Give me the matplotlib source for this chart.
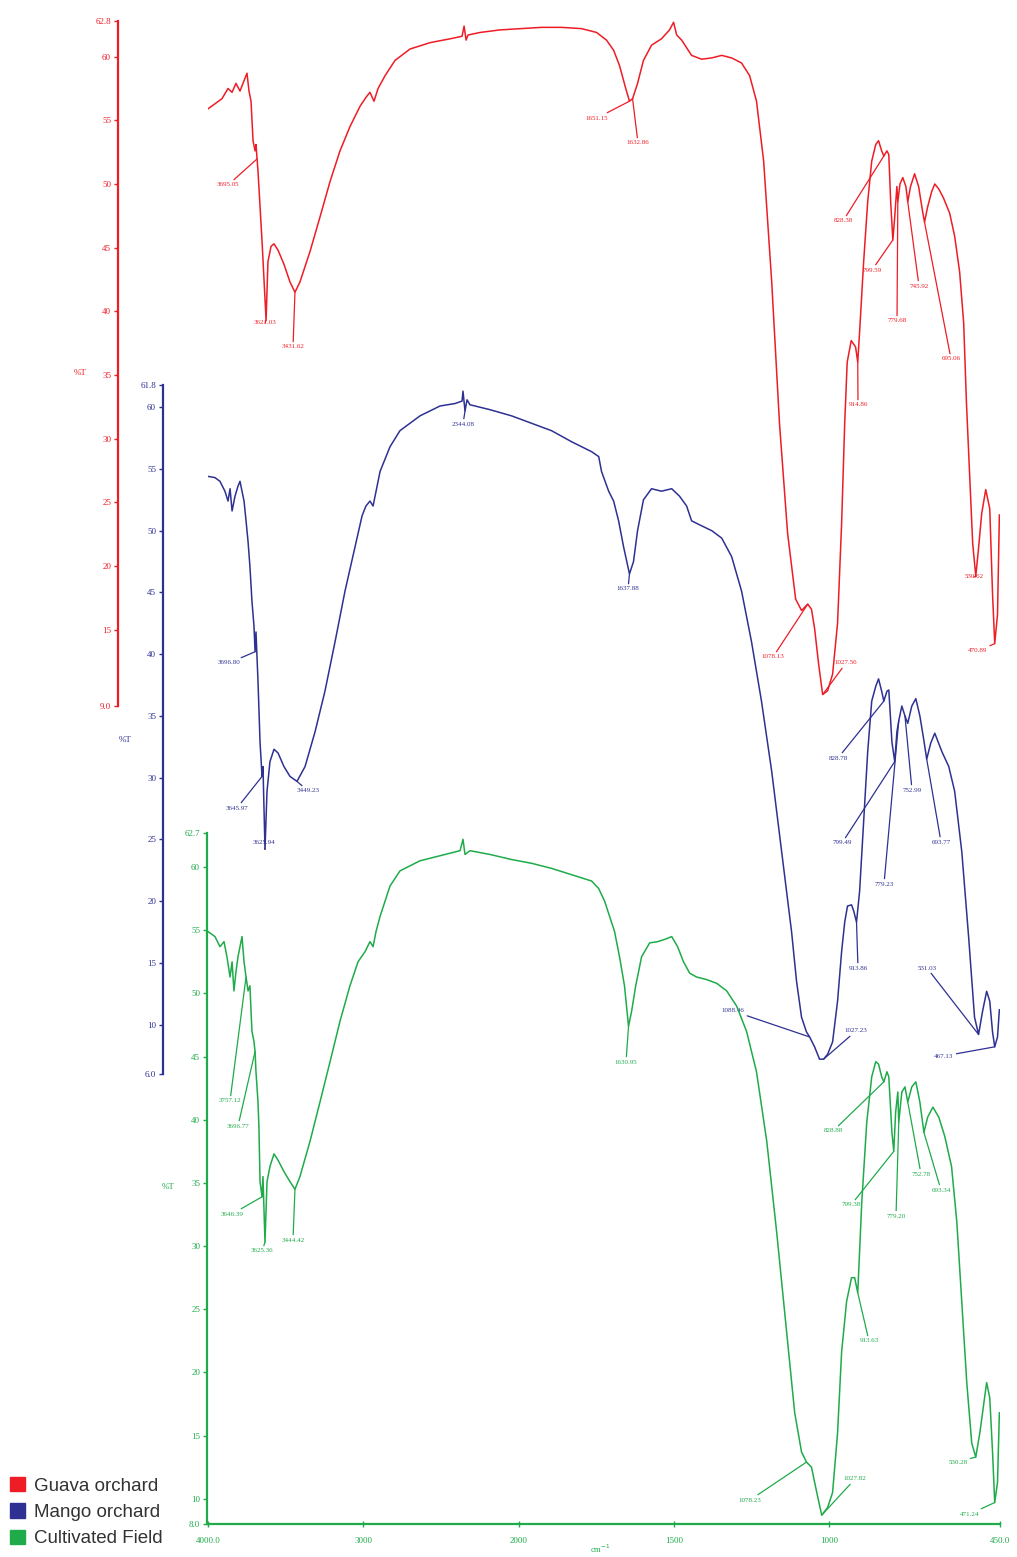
import numpy as np
import matplotlib
matplotlib.use("Agg")
import matplotlib.pyplot as plt
from matplotlib.patches import Patch

# ---------------- data ----------------
red_wn = [4000, 3955, 3910, 3871, 3845, 3820, 3794, 3768, 3749, 3736, 3723, 3710, 3697, 3691, 3678,
          3652, 3626, 3614, 3594, 3575, 3549, 3511, 3472, 3440, 3408, 3343, 3279, 3214, 3150, 3086,
          3021, 2983, 2957, 2931, 2905, 2860, 2796, 2699, 2570, 2442, 2364, 2351, 2338, 2326, 2248,
          2120, 1990, 1926, 1862, 1797, 1749, 1717, 1694, 1675, 1655, 1643, 1633, 1617, 1598, 1572,
          1540, 1514, 1501, 1491, 1475, 1443, 1411, 1378, 1346, 1314, 1282, 1256, 1234, 1211, 1185,
          1160, 1134, 1108, 1089, 1069, 1057, 1047, 1034, 1021, 1005, 989, 973, 960, 950, 942,
          929, 915, 908, 902, 889, 876, 863, 850, 841, 831, 824, 814, 808, 802, 795,
          789, 782, 779, 772, 763, 753, 747, 738, 725, 712, 699, 693, 683, 670, 660,
          647, 632, 612, 596, 580, 567, 558, 548, 538, 528, 519, 509, 496, 483, 474,
          467, 458, 452]
red_T = [55.9, 56.3, 56.7, 57.5, 57.2, 57.9, 57.3, 58.1, 58.7, 57.3, 56.5, 53.4, 52.6, 53.1, 51.0,
         45.5, 39.3, 43.9, 45.1, 45.3, 44.8, 43.7, 42.3, 41.5, 42.3, 44.7, 47.4, 50.2, 52.6, 54.5,
         56.1, 56.8, 57.2, 56.5, 57.5, 58.5, 59.7, 60.6, 61.1, 61.4, 61.6, 62.4, 61.3, 61.7, 61.9,
         62.1, 62.2, 62.3, 62.3, 62.2, 61.9, 61.3, 60.5, 59.3, 57.5, 56.5, 56.7, 57.9, 59.7, 60.9,
         61.4, 62.1, 62.7, 61.7, 61.3, 60.1, 59.8, 59.9, 60.1, 59.9, 59.5, 58.5, 56.5, 51.8, 42.3,
         31.2, 22.6, 17.4, 16.5, 17.0, 16.6, 15.1, 12.3, 9.9, 10.2, 11.5, 15.5, 23.3, 31.2, 36.0,
         37.7, 37.2, 36.0, 38.4, 43.9, 48.6, 51.8, 53.1, 53.4, 52.6, 52.2, 52.6, 52.3, 48.6, 45.6,
         47.4, 49.8, 48.6, 50.0, 50.5, 49.8, 48.6, 49.8, 50.8, 49.8, 47.8, 47.0, 48.2, 49.4, 50.0,
         49.6, 48.9, 47.7, 45.9, 43.1, 39.1, 32.8, 27.3, 21.8, 19.2, 21.4, 24.1, 26.0, 24.5, 17.8,
         13.9, 16.2, 24.0]

blue_wn = [4000, 3955, 3923, 3891, 3871, 3858, 3845, 3826, 3807, 3794, 3781, 3768, 3755, 3742, 3730,
           3717, 3704, 3697, 3691, 3678, 3665, 3652, 3646, 3633, 3620, 3601, 3575, 3549, 3511, 3472,
           3427, 3375, 3311, 3247, 3182, 3118, 3053, 3008, 2983, 2957, 2937, 2918, 2892, 2828, 2764,
           2635, 2506, 2409, 2364, 2358, 2345, 2332, 2313, 2184, 2045, 1958, 1894, 1829, 1765, 1742,
           1733, 1710, 1694, 1678, 1662, 1643, 1630, 1617, 1598, 1572, 1540, 1507, 1482, 1459, 1443,
           1411, 1378, 1346, 1314, 1282, 1250, 1218, 1185, 1153, 1121, 1105, 1089, 1073, 1063, 1047,
           1031, 1018, 1005, 989, 973, 960, 950, 941, 928, 921, 912, 902, 889, 876, 863,
           850, 841, 831, 824, 814, 808, 798, 789, 782, 776, 766, 756, 747, 734, 721,
           708, 695, 686, 673, 660, 637, 615, 596, 573, 551, 532, 519, 506, 493, 483,
           474, 467, 458, 452]
blue_T = [54.4, 54.3, 54.0, 53.2, 52.4, 53.4, 51.6, 52.8, 53.6, 54.0, 53.2, 52.4, 50.8, 49.1, 47.1,
          44.3, 42.3, 40.2, 41.8, 37.8, 32.9, 30.1, 30.9, 24.2, 28.9, 31.3, 32.3, 32.0, 30.9, 30.1,
          29.7, 30.9, 33.7, 37.0, 41.0, 45.1, 48.7, 51.2, 52.0, 52.4, 52.0, 53.2, 54.8, 56.8, 58.1,
          59.3, 60.1, 60.3, 60.5, 61.3, 59.7, 60.6, 60.2, 59.8, 59.3, 58.7, 58.1, 57.2, 56.4, 56.0,
          54.8, 53.2, 52.4, 50.8, 48.7, 46.5, 47.5, 50.0, 52.5, 53.4, 53.2, 53.4, 52.8, 52.0, 50.8,
          50.4, 50.0, 49.4, 47.9, 45.1, 41.0, 36.2, 30.5, 24.0, 17.5, 13.5, 10.6, 9.4, 9.0, 8.2,
          7.2, 7.2, 7.6, 8.6, 11.9, 15.9, 18.3, 19.6, 19.7, 19.2, 18.3, 20.8, 26.5, 32.1, 36.2,
          37.4, 38.0, 37.0, 36.2, 37.0, 37.1, 32.9, 31.3, 33.7, 34.6, 35.8, 35.0, 34.4, 35.8, 36.4,
          35.0, 33.0, 31.5, 32.8, 33.6, 32.1, 30.9, 28.9, 24.0, 17.1, 10.6, 9.2, 11.1, 12.7, 11.9,
          9.4, 8.2, 9.0, 11.2]

green_wn = [4000, 3955, 3923, 3897, 3878, 3858, 3845, 3833, 3820, 3807, 3794, 3781, 3768, 3755, 3742,
            3730, 3717, 3704, 3697, 3691, 3678, 3672, 3665, 3652, 3646, 3633, 3620, 3601, 3575, 3549,
            3511, 3472, 3440, 3408, 3343, 3279, 3214, 3150, 3086, 3034, 2989, 2957, 2937, 2918, 2892,
            2828, 2764, 2635, 2506, 2377, 2358, 2345, 2313, 2184, 2045, 1958, 1894, 1829, 1765, 1742,
            1723, 1707, 1691, 1675, 1659, 1646, 1636, 1623, 1604, 1578, 1552, 1527, 1507, 1488, 1469,
            1449, 1427, 1395, 1362, 1330, 1298, 1266, 1234, 1201, 1169, 1137, 1111, 1089, 1073, 1057,
            1040, 1024, 1005, 989, 973, 960, 944, 928, 918, 908, 895, 879, 863, 850, 841,
            831, 824, 814, 808, 798, 792, 786, 779, 776, 766, 756, 747, 734, 721, 708,
            695, 683, 666, 647, 628, 606, 589, 573, 557, 541, 528, 515, 502, 493, 483,
            474, 467, 458, 452]
green_T = [54.9, 54.5, 53.7, 54.1, 52.9, 51.3, 52.5, 50.2, 51.7, 52.9, 53.7, 54.5, 52.5, 51.3, 50.2,
           50.6, 47.0, 46.2, 45.4, 43.8, 41.4, 39.4, 35.1, 33.9, 35.5, 30.3, 35.1, 36.3, 37.3, 36.8,
           35.9, 35.1, 34.5, 35.5, 38.3, 41.4, 44.6, 47.8, 50.6, 52.5, 53.3, 54.1, 53.7, 54.9, 56.1,
           58.5, 59.7, 60.5, 60.9, 61.3, 62.2, 61.0, 61.3, 61.0, 60.6, 60.3, 59.9, 59.4, 58.9, 58.3,
           57.3, 56.1, 54.9, 52.9, 50.6, 47.4, 48.6, 50.6, 52.9, 54.0, 54.1, 54.3, 54.5, 53.7, 52.5,
           51.6, 51.3, 51.1, 50.8, 50.2, 49.0, 47.0, 43.8, 38.3, 31.1, 23.2, 16.8, 13.7, 12.9, 12.5,
           10.5, 8.7, 9.3, 10.5, 15.2, 21.6, 25.6, 27.5, 27.5, 26.3, 33.5, 39.8, 43.4, 44.6, 44.4,
           43.4, 43.0, 43.8, 43.4, 39.0, 37.5, 40.6, 42.2, 39.8, 42.2, 42.6, 41.4, 42.6, 43.0, 41.4,
           39.0, 40.2, 41.0, 40.2, 38.7, 36.3, 31.9, 25.6, 19.2, 14.4, 13.3, 15.2, 17.6, 19.2, 18.0,
           13.7, 9.7, 11.3, 16.8]

# peak labels: text, anchor wavenumber
red_peaks = ["3695.05", "3621.03", "3431.62", "1651.15", "1632.86", "1078.13", "1027.56", "914.86",
             "828.38", "799.59", "779.68", "745.92", "695.06", "530.62", "470.89"]
red_anchor = [3684, 3626, 3440, 1643, 1633, 1069, 1021, 908, 824, 795, 779, 747, 693, 528, 467]
blue_peaks = ["3696.80", "3645.97", "3625.94", "3449.23", "2344.08", "1637.88", "1088.46", "1027.23",
              "913.86", "828.78", "799.49", "779.23", "752.99", "693.77", "531.03", "467.13"]
blue_anchor = [3697, 3652, 3633, 3427, 2345, 1643, 1063, 1018, 912, 824, 789, 776, 756, 686, 519, 467]
green_peaks = ["3757.12", "3696.77", "3646.39", "3625.36", "3444.42", "1630.95", "1078.23", "1027.82",
               "913.63", "828.88", "799.38", "779.20", "752.78", "693.34", "530.28", "471.24"]
green_anchor = [3755, 3697, 3652, 3633, 3440, 1646, 1073, 1024, 908, 824, 792, 776, 747, 695, 528, 467]

series_names = ["Guava orchard", "Mango orchard", "Cultivated Field"]
x_ticks = [4000, 3000, 2000, 1500, 1000, 450]
x_ticklabels = ["4000.0", "3000", "2000", "1500", "1000", "450.0"]
red_ticks = [9.0, 15, 20, 25, 30, 35, 40, 45, 50, 55, 60, 62.8]
red_ticklabels = ["9.0", "15", "20", "25", "30", "35", "40", "45", "50", "55", "60", "62.8"]
blue_ticks = [6.0, 10, 15, 20, 25, 30, 35, 40, 45, 50, 55, 60, 61.8]
blue_ticklabels = ["6.0", "10", "15", "20", "25", "30", "35", "40", "45", "50", "55", "60", "61.8"]
green_ticks = [8.0, 10, 15, 20, 25, 30, 35, 40, 45, 50, 55, 60, 62.7]
green_ticklabels = ["8.0", "10", "15", "20", "25", "30", "35", "40", "45", "50", "55", "60", "62.7"]

# ---------------- layout / style ----------------
RED, BLUE, GREEN = "#ee1c25", "#2e3192", "#1fab4a"
W, H = 1017, 1557
SERIF = ["Liberation Serif", "DejaVu Serif"]

# label text positions in figure pixels (from top-left)
red_lab_pos = [(228, 185), (265, 323), (293, 347), (597, 118), (638, 143), (773, 657), (846, 663),
               (858, 405), (843, 221), (872, 270), (897, 321), (919, 286), (951, 359), (974, 577), (978, 651)]
blue_lab_pos = [(229, 663), (237, 808), (264, 843), (308, 791), (463, 424), (628, 589), (733, 1011),
                (856, 1031), (858, 968), (838, 758), (842, 843), (884, 884), (912, 790), (941, 842),
                (927, 968), (944, 1056)]
green_lab_pos = [(230, 1101), (238, 1126), (232, 1214), (262, 1251), (293, 1240), (626, 1062),
                 (750, 1500), (855, 1479), (869, 1341), (833, 1131), (851, 1205), (896, 1216),
                 (921, 1174), (941, 1190), (958, 1462), (970, 1514)]


def fwd(w):
    w = np.asarray(w, dtype=float)
    return np.where(w >= 2000, 2000 + (w - 2000) * 0.5, w)


def inv(u):
    u = np.asarray(u, dtype=float)
    return np.where(u >= 2000, 2000 + (u - 2000) * 2.0, u)


fig = plt.figure(figsize=(W / 100, H / 100), dpi=100)
left, right = 208 / W, 1000 / W


def make_ax(top_px, bot_px, ylim, color, spine_px, ticks, ticklabels, wn, T, peaks, anchors, labpos,
            show_x):
    ax = fig.add_axes([left, 1 - bot_px / H, right - left, (bot_px - top_px) / H])
    ax.set_facecolor("none")
    ax.set_xscale("function", functions=(fwd, inv))
    ax.set_xlim(4000, 450)
    ax.set_ylim(*ylim)
    ax.plot(wn, T, color=color, lw=1.1)
    for s in ["top", "right"]:
        ax.spines[s].set_visible(False)
    ax.spines["left"].set_color(color)
    ax.spines["left"].set_linewidth(1.6)
    ax.spines["left"].set_position(("axes", (spine_px - 208) / (1000 - 208)))
    ax.set_yticks(ticks)
    ax.set_yticklabels(ticklabels, fontfamily=SERIF, fontsize=6.5, color=color)
    ax.tick_params(axis="y", colors=color, direction="out", length=3, width=1, pad=2)
    if show_x:
        ax.spines["bottom"].set_color(color)
        ax.spines["bottom"].set_linewidth(1.6)
        ax.set_xticks(x_ticks)
        ax.set_xticklabels(x_ticklabels, fontfamily=SERIF, fontsize=6.5, color=color)
        ax.tick_params(axis="x", colors=color, direction="inout", length=5, width=1, pad=7)
        ax.xaxis.set_minor_locator(matplotlib.ticker.NullLocator())
    else:
        ax.spines["bottom"].set_visible(False)
        ax.set_xticks([])
        ax.xaxis.set_minor_locator(matplotlib.ticker.NullLocator())
    order = np.argsort(wn)
    wn_s = np.asarray(wn, float)[order]
    T_s = np.asarray(T, float)[order]
    for txt, aw, (px, py) in zip(peaks, anchors, labpos):
        at = np.interp(aw, wn_s, T_s)
        ax.annotate(txt, xy=(aw, at), xytext=(px, H - py), textcoords="figure pixels",
                    fontsize=5, fontfamily=SERIF, color=color, ha="center", va="center",
                    arrowprops=dict(arrowstyle="-", color=color, lw=0.9, shrinkA=0, shrinkB=0))
    return ax


ax_r = make_ax(21, 706, (9.0, 62.8), RED, 118, red_ticks, red_ticklabels, red_wn, red_T,
               red_peaks, red_anchor, red_lab_pos, False)
ax_b = make_ax(385, 1074, (6.0, 61.8), BLUE, 163, blue_ticks, blue_ticklabels, blue_wn, blue_T,
               blue_peaks, blue_anchor, blue_lab_pos, False)
ax_g = make_ax(833, 1524, (8.0, 62.7), GREEN, 207, green_ticks, green_ticklabels, green_wn, green_T,
               green_peaks, green_anchor, green_lab_pos, True)

fig.text(80 / W, 1 - 373 / H, "%T", color=RED, fontsize=6.5, fontfamily=SERIF, ha="center", va="center")
fig.text(125 / W, 1 - 740 / H, "%T", color=BLUE, fontsize=6.5, fontfamily=SERIF, ha="center", va="center")
fig.text(168 / W, 1 - 1187 / H, "%T", color=GREEN, fontsize=6.5, fontfamily=SERIF, ha="center", va="center")
fig.text(600 / W, 1 - 1549 / H, "cm$^{-1}$", color=GREEN, fontsize=6, fontfamily=SERIF,
         ha="center", va="center")

handles = [Patch(facecolor=c, edgecolor=c) for c in (RED, BLUE, GREEN)]
fig.legend(handles, series_names, loc="lower left", bbox_to_anchor=(6 / W, 6 / H),
           frameon=False, handlelength=0.8, handleheight=0.8, handletextpad=0.5,
           labelspacing=0.46, borderpad=0.2, borderaxespad=0,
           prop={"family": ["Liberation Sans", "DejaVu Sans"], "size": 13.5}, labelcolor="#333333")

fig.savefig("out.png", dpi=100)
